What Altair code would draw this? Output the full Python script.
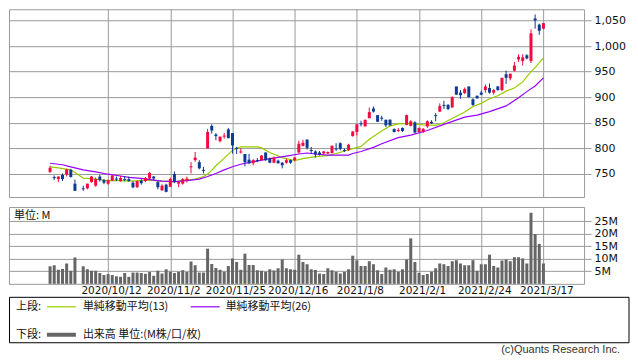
import altair as alt
import pandas as pd

# ---------------- data ----------------
# trading-day index: 0 = 2020/9/18 ... 119 = 2021/3/17 ; day 7 (2020/10/1) had no trading
day_index = [i for i in range(120) if i != 7]

opens = [754, 744, 740, 748, 749, 758, 731,
         722, 722, 734, 727, 745, 738, 731, 737, 741, 736, 740, 740, 733, 724,
         737, 736, 741, 745, 734, 718, 729, 725, 750, 731, 731, 738, 763, 777,
         773, 758, 800, 844, 827, 814, 823, 837, 830, 801, 792, 789, 778, 771,
         777, 777, 792, 780, 772, 776, 772, 772, 777, 777, 792, 805, 817, 797,
         794, 792, 790, 790, 791, 800, 810, 797, 797, 824, 832, 849, 843, 859,
         878, 865, 860, 856, 856, 838, 834, 840, 846, 844, 851, 832, 832, 843,
         852, 865, 872, 885, 885, 880, 921, 909, 908, 921, 896, 903, 909, 914,
         918, 909, 921, 914, 945, 937, 952, 974, 971, 982, 971, 1054, 1042, 1034]
highs = [766, 747, 745, 751, 760, 760, 739,
         727, 731, 746, 743, 748, 740, 739, 748, 745, 746, 746, 745, 736, 737,
         740, 744, 754, 746, 736, 730, 731, 743, 755, 734, 742, 745, 773, 793,
         777, 764, 838, 847, 830, 823, 830, 840, 830, 803, 800, 789, 789, 779,
         781, 787, 792, 782, 784, 778, 773, 780, 778, 783, 815, 817, 818, 803,
         796, 795, 795, 794, 806, 810, 812, 800, 809, 834, 847, 854, 856, 880,
         882, 865, 864, 856, 857, 839, 840, 841, 866, 855, 853, 841, 840, 855,
         855, 869, 888, 893, 887, 902, 921, 914, 919, 921, 898, 903, 913, 925,
         927, 916, 922, 938, 952, 946, 969, 984, 984, 984, 1033, 1062, 1044, 1045]
lows = [752, 738, 734, 736, 745, 743, 717,
        717, 720, 733, 725, 735, 730, 729, 736, 736, 735, 736, 735, 722, 723,
        729, 734, 740, 738, 720, 717, 714, 725, 732, 724, 729, 733, 751, 774,
        759, 751, 800, 829, 816, 812, 819, 820, 790, 789, 790, 765, 769, 767,
        773, 776, 776, 771, 771, 770, 761, 770, 770, 775, 790, 804, 798, 790,
        782, 786, 789, 789, 790, 795, 796, 793, 795, 823, 825, 843, 843, 859,
        870, 852, 854, 842, 844, 831, 832, 832, 845, 843, 830, 831, 830, 840,
        848, 853, 871, 877, 875, 880, 905, 897, 906, 900, 883, 897, 904, 909,
        907, 905, 913, 912, 926, 933, 950, 969, 962, 974, 967, 1034, 1022, 1033]
closes = [762, 742, 745, 740, 759, 744, 717,
          720, 731, 745, 740, 738, 733, 738, 747, 739, 742, 738, 736, 724, 736,
          732, 742, 752, 741, 724, 727, 715, 740, 735, 734, 740, 741, 765, 782,
          761, 756, 832, 835, 824, 823, 825, 820, 806, 799, 794, 773, 771, 777,
          775, 786, 777, 772, 782, 771, 767, 777, 772, 782, 809, 811, 801, 795,
          788, 788, 794, 793, 805, 798, 799, 795, 807, 833, 847, 847, 856, 871,
          872, 852, 858, 845, 845, 832, 836, 834, 865, 853, 831, 840, 838, 853,
          849, 863, 883, 883, 877, 900, 905, 904, 916, 900, 885, 898, 905, 921,
          909, 914, 914, 938, 938, 946, 962, 979, 978, 976, 1025, 1050, 1030, 1045]
# volume, millions of shares
volumes = [7.0, 7.4, 5.6, 5.9, 8.1, 5.2, 10.5,
           7.0, 5.8, 5.2, 5.2, 4.3, 3.5, 3.9, 3.5, 3.0, 2.8, 4.3, 2.8, 4.5, 4.5,
           4.3, 4.0, 4.7, 3.2, 5.2, 4.1, 5.8, 4.8, 4.3, 4.8, 5.4, 4.7, 8.9, 7.4,
           4.5, 4.5, 14.0, 7.9, 6.3, 5.6, 4.8, 7.1, 10.1, 8.7, 5.6, 12.0, 7.5, 7.5,
           5.4, 5.2, 4.8, 5.8, 5.3, 6.2, 9.7, 6.2, 5.8, 5.6, 11.6, 8.7, 7.8, 5.8,
           5.5, 4.1, 3.9, 6.2, 5.4, 4.8, 4.1, 4.8, 5.8, 11.2, 9.4, 7.1, 7.1, 9.0,
           7.8, 5.4, 3.9, 6.5, 5.6, 5.8, 4.8, 5.8, 9.7, 18.1, 8.7, 4.4, 3.5, 3.9,
           4.8, 6.2, 8.1, 7.8, 7.1, 9.0, 9.4, 8.1, 7.4, 7.4, 9.4, 5.2, 7.8, 7.8,
           11.6, 7.1, 6.5, 9.3, 9.7, 9.0, 10.6, 10.6, 10.1, 8.1, 28.3, 19.8, 15.9, 8.1]

ma13_index = [0, 2, 5, 6, 8, 11, 14, 17, 19, 22, 24, 27, 30, 32, 35, 37, 38, 39, 40,
              42, 44, 45, 46, 50, 51, 53, 56, 59, 61, 64, 67, 69, 72, 75, 77, 80,
              82, 84, 87, 90, 93, 95, 98, 100, 102, 104, 106, 108, 110, 112, 114,
              116, 117, 119]
ma13_values = [764, 762, 758, 753, 742, 740, 737, 737, 736, 737, 738, 736, 734.5,
               737.5, 740, 745, 750, 757, 766, 781, 796, 800, 803, 803, 801, 792,
               782, 776, 780, 784, 786, 790, 797, 804, 818, 834, 844, 848, 849,
               846, 845, 850, 863, 871, 882, 888, 897, 903, 912, 918, 930, 950,
               958, 977]
ma26_index = [0, 3, 5, 8, 11, 14, 17, 19, 22, 25, 27, 30, 33, 36, 38, 40, 42, 44,
              46, 49, 53, 57, 60, 62, 64, 67, 72, 73, 75, 78, 80, 84, 87, 91, 95,
              100, 103, 106, 110, 113, 115, 117, 119]
ma26_values = [771, 768, 764, 758, 754, 749.5, 746, 743.5, 741.5, 738, 736, 735,
               737, 740, 745, 751, 758, 764, 769, 774, 780, 785, 789, 791, 789,
               787, 787, 790, 794, 802, 809, 821, 826, 835, 847, 861, 865, 872,
               883, 899, 911, 922, 938]

tick_index = [14, 29, 44, 59, 74, 89, 104, 119]
tick_labels = ["2020/10/12", "2020/11/2", "2020/11/25", "2020/12/16",
               "2021/1/8", "2021/2/1", "2021/2/24", "2021/3/17"]
price_ticks = [750, 800, 850, 900, 950, 1000, 1050]
volume_ticks = [5, 10, 15, 20, 25]

# ---------------- frames ----------------
candles = pd.DataFrame({"idx": day_index, "open": opens, "high": highs,
                        "low": lows, "close": closes})
candles["dir"] = ["up" if c >= o else "down" for o, c in zip(opens, closes)]
vol = pd.DataFrame({"idx": day_index, "vol": volumes})
ma13 = pd.DataFrame({"idx": ma13_index, "ma": ma13_values})
ma26 = pd.DataFrame({"idx": ma26_index, "ma": ma26_values})
one = pd.DataFrame({"k": [0]})

# ---------------- style ----------------
GRID = "#9a9a9a"
RED = "#f5083f"
BLUE = "#0c3a94"
GREEN = "#99cc00"
PURPLE = "#9900ff"
VOLC = "#666666"
NUMFONT = "DejaVu Sans"
JPFONT = "Noto Sans CJK JP"
W = 576

xscale = alt.Scale(domain=[-8.7, 127.6], nice=False, zero=False)
pscale = alt.Scale(domain=[705, 1072], nice=False, zero=False)
vscale = alt.Scale(domain=[0, 30.6], nice=False, zero=True)
cscale = alt.Scale(domain=["up", "down"], range=[RED, BLUE])

px_axis = alt.Axis(values=tick_index, labels=False, ticks=False, domain=False,
                   grid=True, gridColor=GRID, gridOpacity=1, title=None)
py_axis = alt.Axis(orient="right", values=price_ticks,
                   labelExpr="format(datum.value, ',')", tickSize=7,
                   tickColor=GRID, labelPadding=3, grid=True, gridColor=GRID,
                   gridOpacity=1, domain=False, title=None, labelFont=NUMFONT,
                   labelFontSize=11, labelColor="#111", labelOverlap=False)

label_expr = "''"
for v, l in reversed(list(zip(tick_index, tick_labels))):
    label_expr = f"datum.value == {v} ? '{l}' : ({label_expr})"

vx_axis = alt.Axis(values=tick_index, labelExpr=label_expr, ticks=False,
                   domain=False, grid=True, gridColor=GRID, gridOpacity=1,
                   title=None, labelFont=NUMFONT, labelFontSize=10.5,
                   labelColor="#111", labelPadding=2, labelOverlap=False,
                   labelFlush=False, labelOffset=3)
vy_axis = alt.Axis(orient="right", values=volume_ticks,
                   labelExpr="datum.value + 'M'", tickSize=7, tickColor=GRID,
                   labelPadding=3, grid=True, gridColor=GRID, gridOpacity=1,
                   domain=False, title=None, labelFont=NUMFONT, labelFontSize=11,
                   labelColor="#111", labelOverlap=False)

X = alt.X("idx:Q", scale=xscale, axis=px_axis)

# ---------------- price panel ----------------
line13 = alt.Chart(ma13).mark_line(color=GREEN, strokeWidth=1.2).encode(
    x=X, y=alt.Y("ma:Q", scale=pscale, axis=py_axis))
line26 = alt.Chart(ma26).mark_line(color=PURPLE, strokeWidth=1.2).encode(
    x=X, y=alt.Y("ma:Q", scale=pscale, axis=py_axis))
wicks = alt.Chart(candles).mark_rule(strokeWidth=1).encode(
    x=X, y=alt.Y("low:Q", scale=pscale, axis=py_axis), y2="high:Q",
    color=alt.Color("dir:N", scale=cscale, legend=None))
bodies = alt.Chart(candles).mark_bar(size=3).encode(
    x=X, y=alt.Y("open:Q", scale=pscale, axis=py_axis), y2="close:Q",
    color=alt.Color("dir:N", scale=cscale, legend=None))

price = alt.layer(line13, line26, wicks, bodies).properties(width=W, height=188)

# ---------------- volume panel + legend ----------------
VX = alt.X("idx:Q", scale=xscale, axis=vx_axis)
bars = alt.Chart(vol).mark_bar(size=3, color=VOLC).encode(
    x=VX, y=alt.Y("vol:Q", scale=vscale, axis=vy_axis))

def txt(s, x, y, font=JPFONT, size=11, align="left", color="#111"):
    return alt.Chart(one).mark_text(text=s, font=font, fontSize=size, align=align,
                                    baseline="middle", color=color).encode(
        x=alt.value(x), y=alt.value(y))

def seg(x1, x2, y, color, width):
    return alt.Chart(one).mark_rule(color=color, strokeWidth=width).encode(
        x=alt.value(x1), x2=alt.value(x2), y=alt.value(y))

unit = txt("単位: M", 5, 9)
box = alt.Chart(one).mark_rect(fill="white", fillOpacity=0, stroke="#000",
                               strokeWidth=1).encode(
    x=alt.value(0.5), x2=alt.value(621), y=alt.value(90.5), y2=alt.value(136))
leg = [
    txt("上段:", 7, 100),
    seg(38, 67, 100, GREEN, 1.2),
    txt("単純移動平均(13)", 74, 100),
    seg(182, 211, 100, PURPLE, 1.2),
    txt("単純移動平均(26)", 217, 100),
    txt("下段:", 7, 128),
    seg(38, 67, 128, VOLC, 4),
    txt("出来高 単位:(M株/口/枚)", 74, 128),
    txt("(c)Quants Research Inc.", 612, 143, font="Liberation Sans", size=11,
        align="right", color="#333"),
]

volume = alt.layer(bars, unit, box, *leg).properties(width=W, height=77)

chart = alt.vconcat(price, volume, spacing=8).properties(
    padding=0
).configure_view(stroke=GRID, strokeWidth=1)

chart.save("out.html", embed_options={"renderer": "svg", "actions": False})
